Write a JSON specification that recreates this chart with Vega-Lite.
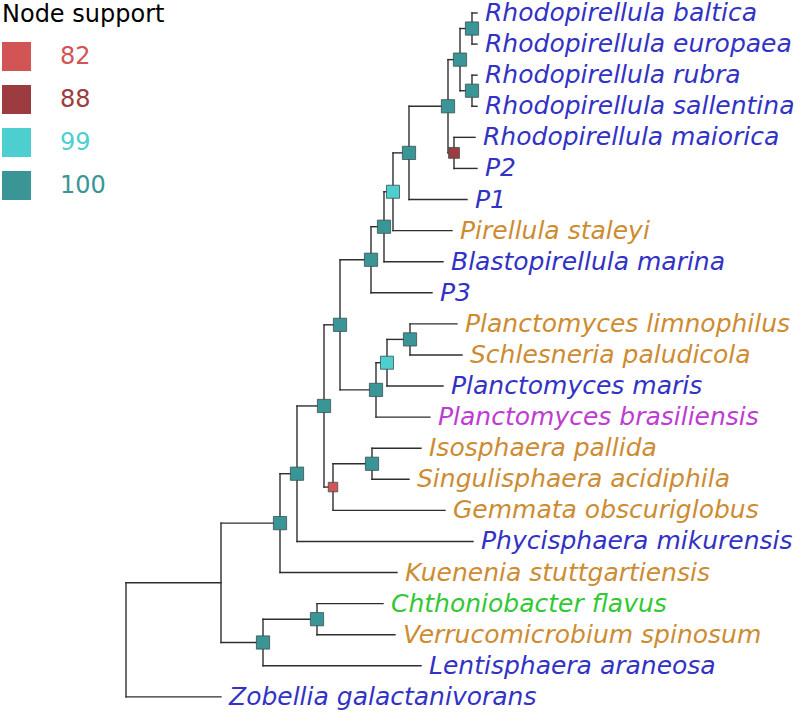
{
  "$schema": "https://vega.github.io/schema/vega-lite/v6.json",
  "width": 800,
  "height": 715,
  "padding": 0,
  "autosize": {"type": "none"},
  "config": {"view": {"stroke": null}, "font": "DejaVu Sans"},
  "datasets": {
    "edges": [
      {"x": 0, "x2": 95, "y": 19.330078125, "y2": 19.330078125},
      {"x": 95, "x2": 154, "y": 17.41015625, "y2": 17.41015625},
      {"x": 95, "x2": 137, "y": 21.25, "y2": 21.25},
      {"x": 154, "x2": 171, "y": 15.8203125, "y2": 15.8203125},
      {"x": 154, "x2": 271, "y": 19, "y2": 19},
      {"x": 171, "x2": 198, "y": 13.640625, "y2": 13.640625},
      {"x": 171, "x2": 347, "y": 18, "y2": 18},
      {"x": 198, "x2": 214, "y": 11.03125, "y2": 11.03125},
      {"x": 198, "x2": 207, "y": 16.25, "y2": 16.25},
      {"x": 214, "x2": 245, "y": 8.9375, "y2": 8.9375},
      {"x": 214, "x2": 250, "y": 13.125, "y2": 13.125},
      {"x": 245, "x2": 258, "y": 7.875, "y2": 7.875},
      {"x": 245, "x2": 306, "y": 10, "y2": 10},
      {"x": 258, "x2": 267, "y": 6.75, "y2": 6.75},
      {"x": 258, "x2": 317, "y": 9, "y2": 9},
      {"x": 267, "x2": 283, "y": 5.5, "y2": 5.5},
      {"x": 267, "x2": 326, "y": 8, "y2": 8},
      {"x": 283, "x2": 322, "y": 4, "y2": 4},
      {"x": 283, "x2": 341, "y": 7, "y2": 7},
      {"x": 322, "x2": 334, "y": 2.5, "y2": 2.5},
      {"x": 322, "x2": 328, "y": 5.5, "y2": 5.5},
      {"x": 334, "x2": 346, "y": 1.5, "y2": 1.5},
      {"x": 334, "x2": 346, "y": 3.5, "y2": 3.5},
      {"x": 346, "x2": 351, "y": 1, "y2": 1},
      {"x": 346, "x2": 351, "y": 2, "y2": 2},
      {"x": 346, "x2": 351, "y": 3, "y2": 3},
      {"x": 346, "x2": 351, "y": 4, "y2": 4},
      {"x": 328, "x2": 349, "y": 5, "y2": 5},
      {"x": 328, "x2": 351, "y": 6, "y2": 6},
      {"x": 250, "x2": 261, "y": 12.25, "y2": 12.25},
      {"x": 250, "x2": 304, "y": 14, "y2": 14},
      {"x": 261, "x2": 284, "y": 11.5, "y2": 11.5},
      {"x": 261, "x2": 317, "y": 13, "y2": 13},
      {"x": 284, "x2": 331, "y": 11, "y2": 11},
      {"x": 284, "x2": 336, "y": 12, "y2": 12},
      {"x": 207, "x2": 246, "y": 15.5, "y2": 15.5},
      {"x": 207, "x2": 319, "y": 17, "y2": 17},
      {"x": 246, "x2": 295, "y": 15, "y2": 15},
      {"x": 246, "x2": 283, "y": 16, "y2": 16},
      {"x": 137, "x2": 191, "y": 20.5, "y2": 20.5},
      {"x": 137, "x2": 295, "y": 22, "y2": 22},
      {"x": 191, "x2": 257, "y": 20, "y2": 20},
      {"x": 191, "x2": 269, "y": 21, "y2": 21},
      {"x": 0, "x2": 95, "y": 23, "y2": 23},
      {"x": 0, "x2": 0, "y": 19.330078125, "y2": 23},
      {"x": 95, "x2": 95, "y": 17.41015625, "y2": 21.25},
      {"x": 154, "x2": 154, "y": 15.8203125, "y2": 19},
      {"x": 171, "x2": 171, "y": 13.640625, "y2": 18},
      {"x": 198, "x2": 198, "y": 11.03125, "y2": 16.25},
      {"x": 214, "x2": 214, "y": 8.9375, "y2": 13.125},
      {"x": 245, "x2": 245, "y": 7.875, "y2": 10},
      {"x": 258, "x2": 258, "y": 6.75, "y2": 9},
      {"x": 267, "x2": 267, "y": 5.5, "y2": 8},
      {"x": 283, "x2": 283, "y": 4, "y2": 7},
      {"x": 322, "x2": 322, "y": 2.5, "y2": 5.5},
      {"x": 334, "x2": 334, "y": 1.5, "y2": 3.5},
      {"x": 346, "x2": 346, "y": 1, "y2": 2},
      {"x": 346, "x2": 346, "y": 3, "y2": 4},
      {"x": 328, "x2": 328, "y": 5, "y2": 6},
      {"x": 250, "x2": 250, "y": 12.25, "y2": 14},
      {"x": 261, "x2": 261, "y": 11.5, "y2": 13},
      {"x": 284, "x2": 284, "y": 11, "y2": 12},
      {"x": 207, "x2": 207, "y": 15.5, "y2": 17},
      {"x": 246, "x2": 246, "y": 15, "y2": 16},
      {"x": 137, "x2": 137, "y": 20.5, "y2": 22},
      {"x": 191, "x2": 191, "y": 20, "y2": 21}
    ],
    "nodes": [
      {"x": 346, "y": 1.5, "support": 100},
      {"x": 346, "y": 3.5, "support": 100},
      {"x": 334, "y": 2.5, "support": 100},
      {"x": 322, "y": 4, "support": 100},
      {"x": 328, "y": 5.5, "support": 88},
      {"x": 283, "y": 5.5, "support": 100},
      {"x": 267, "y": 6.75, "support": 99},
      {"x": 258, "y": 7.875, "support": 100},
      {"x": 245, "y": 8.9375, "support": 100},
      {"x": 214, "y": 11.03125, "support": 100},
      {"x": 284, "y": 11.5, "support": 100},
      {"x": 261, "y": 12.25, "support": 99},
      {"x": 250, "y": 13.125, "support": 100},
      {"x": 198, "y": 13.640625, "support": 100},
      {"x": 246, "y": 15.5, "support": 100},
      {"x": 207, "y": 16.25, "support": 82},
      {"x": 171, "y": 15.8203125, "support": 100},
      {"x": 154, "y": 17.41015625, "support": 100},
      {"x": 191, "y": 20.5, "support": 100},
      {"x": 137, "y": 21.25, "support": 100}
    ],
    "tips": [
      {"label": "Rhodopirellula baltica", "x": 351, "y": 1, "group": "A"},
      {"label": "Rhodopirellula europaea", "x": 351, "y": 2, "group": "A"},
      {"label": "Rhodopirellula rubra", "x": 351, "y": 3, "group": "A"},
      {"label": "Rhodopirellula sallentina", "x": 351, "y": 4, "group": "A"},
      {"label": "Rhodopirellula maiorica", "x": 349, "y": 5, "group": "A"},
      {"label": "P2", "x": 351, "y": 6, "group": "A"},
      {"label": "P1", "x": 341, "y": 7, "group": "A"},
      {"label": "Pirellula staleyi", "x": 326, "y": 8, "group": "B"},
      {"label": "Blastopirellula marina", "x": 317, "y": 9, "group": "A"},
      {"label": "P3", "x": 306, "y": 10, "group": "A"},
      {"label": "Planctomyces limnophilus", "x": 331, "y": 11, "group": "B"},
      {"label": "Schlesneria paludicola", "x": 336, "y": 12, "group": "B"},
      {"label": "Planctomyces maris", "x": 317, "y": 13, "group": "A"},
      {"label": "Planctomyces brasiliensis", "x": 304, "y": 14, "group": "D"},
      {"label": "Isosphaera pallida", "x": 295, "y": 15, "group": "B"},
      {"label": "Singulisphaera acidiphila", "x": 283, "y": 16, "group": "B"},
      {"label": "Gemmata obscuriglobus", "x": 319, "y": 17, "group": "B"},
      {"label": "Phycisphaera mikurensis", "x": 347, "y": 18, "group": "A"},
      {"label": "Kuenenia stuttgartiensis", "x": 271, "y": 19, "group": "B"},
      {"label": "Chthoniobacter flavus", "x": 257, "y": 20, "group": "C"},
      {"label": "Verrucomicrobium spinosum", "x": 269, "y": 21, "group": "B"},
      {"label": "Lentisphaera araneosa", "x": 295, "y": 22, "group": "A"},
      {"label": "Zobellia galactanivorans", "x": 95, "y": 23, "group": "A"}
    ]
  },
  "encoding": {
    "x": {"type": "quantitative", "scale": {"domain": [-126, 674], "nice": false, "zero": false}, "axis": null},
    "y": {"type": "quantitative", "scale": {"domain": [0.582, 23.582], "nice": false, "zero": false, "reverse": true}, "axis": null}
  },
  "layer": [
    {
      "data": {"name": "edges"},
      "mark": {"type": "rule", "color": "#2e2e2e", "strokeWidth": 1.4, "strokeCap": "square"},
      "encoding": {
        "x": {"field": "x", "type": "quantitative"},
        "x2": {"field": "x2"},
        "y": {"field": "y", "type": "quantitative"},
        "y2": {"field": "y2"}
      }
    },
    {
      "data": {"name": "nodes"},
      "mark": {"type": "point", "shape": "square", "filled": true, "opacity": 1, "stroke": "#3d4f50", "strokeWidth": 0.8},
      "encoding": {
        "x": {"field": "x", "type": "quantitative"},
        "y": {"field": "y", "type": "quantitative"},
        "color": {
          "field": "support",
          "type": "ordinal",
          "scale": {"domain": [82, 88, 99, 100], "range": ["#d35454", "#9c3c40", "#4dcfcf", "#3a9696"]},
          "legend": {
            "title": "Node support",
            "orient": "none",
            "legendX": 2,
            "legendY": 3,
            "padding": 0,
            "titleFont": "DejaVu Sans",
            "titleFontSize": 24,
            "titleFontWeight": "normal",
            "titleColor": "#000000",
            "titlePadding": 15,
            "symbolType": "square",
            "symbolSize": 841,
            "symbolStrokeWidth": 0,
            "symbolOpacity": 1,
            "labelFont": "DejaVu Sans",
            "labelFontSize": 24,
            "labelOffset": 29,
            "rowPadding": 14,
            "labelColor": {"expr": "datum.value == 82 ? '#d35454' : datum.value == 88 ? '#9c3c40' : datum.value == 99 ? '#4dcfcf' : '#3a9696'"}
          }
        },
        "size": {"field": "support", "type": "quantitative", "scale": {"domain": [82, 100], "range": [90, 175]}, "legend": null}
      }
    },
    {
      "data": {"name": "tips"},
      "mark": {"type": "text", "align": "left", "baseline": "middle", "dx": 8, "fontSize": 25, "fontStyle": "italic", "font": "DejaVu Sans"},
      "encoding": {
        "x": {"field": "x", "type": "quantitative"},
        "y": {"field": "y", "type": "quantitative"},
        "text": {"field": "label"},
        "color": {
          "field": "group",
          "type": "nominal",
          "scale": {"domain": ["A", "B", "C", "D"], "range": ["#3232c4", "#cd8c32", "#32c832", "#be3cd2"]},
          "legend": null
        }
      }
    }
  ],
  "resolve": {"scale": {"color": "independent", "size": "independent"}, "legend": {"color": "independent"}}
}
